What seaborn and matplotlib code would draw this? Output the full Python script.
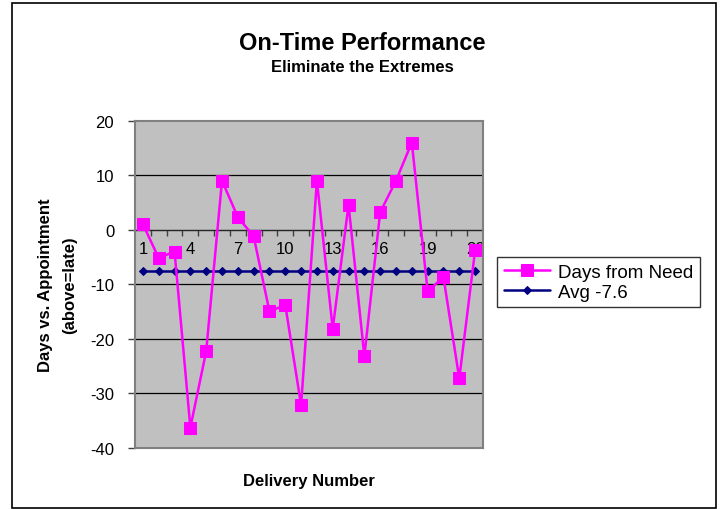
import numpy as np
import pandas as pd
import matplotlib
matplotlib.use('Agg')
import matplotlib.pyplot as plt
from matplotlib.patches import Rectangle
import seaborn as sns

# DATA
delivery = list(range(1, 23))
days_from_need = [1.0, -5.2, -4.0, -36.3, -22.3, 9.0, 2.3, -1.2, -15.0, -13.8, -32.2,
                  9.0, -18.2, 4.6, -23.2, 3.2, 9.0, 16.0, -11.3, -8.7, -27.3, -3.8]
avg_value = -7.6
avg_line = [avg_value] * len(delivery)
x_tick_labels = [1, 4, 7, 10, 13, 16, 19, 22]
y_ticks = [-40, -30, -20, -10, 0, 10, 20]

df = pd.DataFrame({'delivery': delivery, 'days': days_from_need, 'avg': avg_line})

sns.set_style('white')
plt.rcParams['font.family'] = ['Liberation Sans', 'DejaVu Sans']
plt.rcParams['text.color'] = 'black'
plt.rcParams['axes.labelcolor'] = 'black'
plt.rcParams['xtick.color'] = 'black'
plt.rcParams['ytick.color'] = 'black'

fig = plt.figure(figsize=(7.24, 5.10), dpi=100)
ax = fig.add_axes([135 / 724, 61.3 / 510, 348 / 724, 327 / 510])
ax.set_facecolor('#C0C0C0')

# gridlines
for yv in y_ticks[1:-1]:
    ax.axhline(yv, color='black', lw=0.9, zorder=1)

sns.lineplot(data=df, x='delivery', y='days', ax=ax, color='#FF00FF', lw=1.8,
             marker='s', markersize=8, markeredgecolor='#FF00FF',
             label='Days from Need', zorder=4)
sns.lineplot(data=df, x='delivery', y='avg', ax=ax, color='#000080', lw=1.8,
             marker='D', markersize=4.5, markeredgecolor='#000080',
             label='Avg -7.6', zorder=3)

ax.set_xlim(0.5, 22.5)
ax.set_ylim(-40, 20)
ax.set_xticks([])
ax.set_yticks(y_ticks)
ax.set_yticklabels([str(v) for v in y_ticks], fontsize=12)
ax.tick_params(axis='y', direction='out', length=5, width=1, pad=10, left=True,
               color='#404040', labelcolor='black')
for sp in ax.spines.values():
    sp.set_color('#808080')
    sp.set_linewidth(1.5)

# category axis crossing at zero
sec = ax.secondary_xaxis(2 / 3)
sec.spines['bottom'].set_color('black')
sec.spines['bottom'].set_linewidth(1)
sec.set_xticks([i + 0.5 for i in delivery[:-1]])
sec.set_xticklabels([])
sec.set_xticks(x_tick_labels, minor=True)
sec.set_xticklabels([str(v) for v in x_tick_labels], minor=True, fontsize=12)
sec.tick_params(axis='x', which='both', bottom=True, top=False,
                labelbottom=True, labeltop=False, labelcolor='black')
sec.tick_params(axis='x', which='major', direction='out', length=4, width=1, color='#404040')
sec.tick_params(axis='x', which='minor', length=0, pad=8)
sec.set_zorder(2)

ax.set_xlabel('Delivery Number', fontsize=12, fontweight='bold', labelpad=18, color='black')
ax.set_ylabel('Days vs. Appointment\n(above=late)', fontsize=12, fontweight='bold',
              labelpad=9, linespacing=1.8, color='black')

fig.text(0.5, 1 - 43 / 510, 'On-Time Performance', ha='center', va='center',
         fontsize=17, fontweight='bold', color='black')
fig.text(0.5, 1 - 67 / 510, 'Eliminate the Extremes', ha='center', va='center',
         fontsize=12, fontweight='bold', color='black')

ax.get_legend().remove()
h, l = ax.get_legend_handles_labels()
leg = fig.legend(h, l, loc='upper left', bbox_to_anchor=(497 / 724, 1 - 258 / 510),
                 borderaxespad=0, fontsize=13.5, frameon=True, fancybox=False,
                 edgecolor='black', handlelength=2.5, borderpad=0.35,
                 labelspacing=0.15, handletextpad=0.4, labelcolor='black')
leg.get_frame().set_linewidth(1)

fig.patches.append(Rectangle((12 / 724, 1 / 510), 704 / 724, 505 / 510,
                             transform=fig.transFigure, fill=False,
                             edgecolor='black', lw=1.2))

fig.savefig('out.png', dpi=100)
